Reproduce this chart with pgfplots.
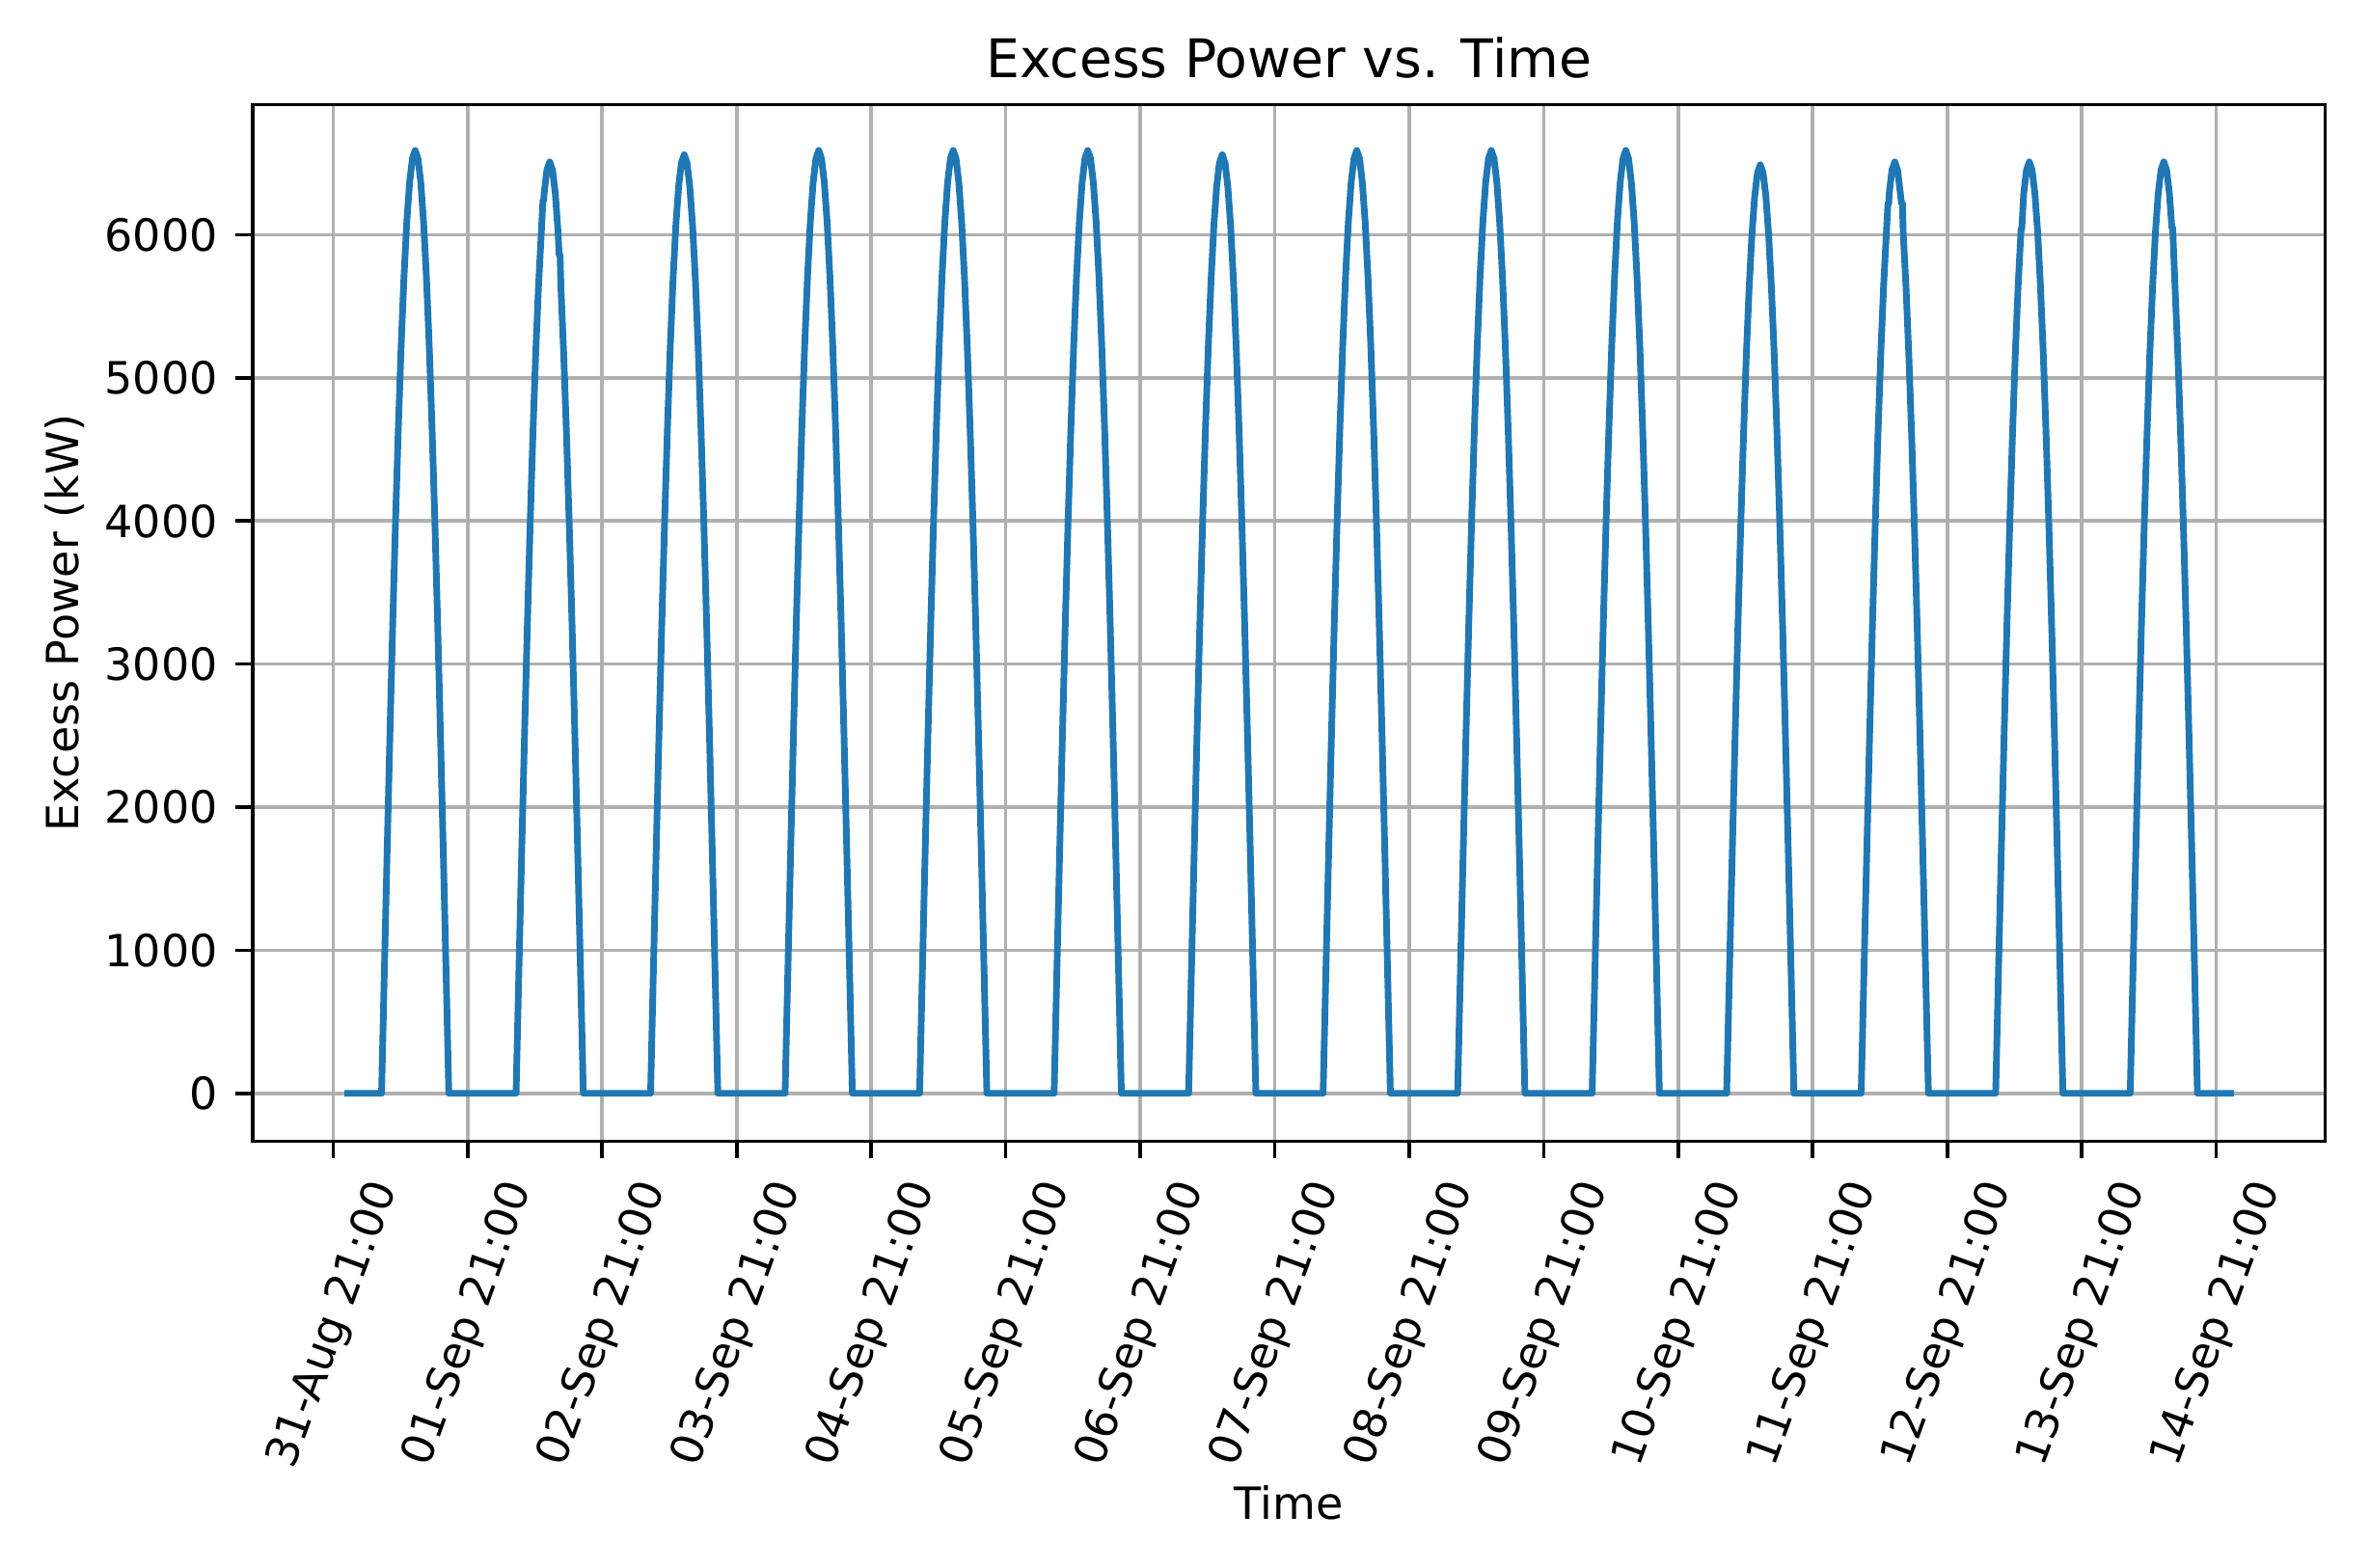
\documentclass[border=0pt]{standalone}
\usepackage{pgfplots}
\pgfplotsset{compat=1.18}
\usepackage{fontspec}
\setmainfont{DejaVu Sans}
\definecolor{mplblue}{RGB}{31,119,180}
\definecolor{gridgray}{RGB}{176,176,176}
\begin{document}
\begin{tikzpicture}
\useasboundingbox (-56.9pt,-96.2pt) rectangle (477.3pt,257.3pt);
\begin{axis}[
  at={(0,0)}, anchor=south west,
  scale only axis, width=467.2pt, height=233.7pt,
  xmin=-0.60, xmax=14.81, ymin=-335, ymax=6910,
  font=\fontsize{10pt}{12pt}\selectfont,
  axis line style={black, line width=0.8pt},
  tick align=outside, major tick length=3.85pt,
  tick style={black, line width=0.8pt},
  xtick={0,1,2,3,4,5,6,7,8,9,10,11,12,13,14},
  xticklabels={31-Aug 21:00,01-Sep 21:00,02-Sep 21:00,03-Sep 21:00,04-Sep 21:00,05-Sep 21:00,06-Sep 21:00,07-Sep 21:00,08-Sep 21:00,09-Sep 21:00,10-Sep 21:00,11-Sep 21:00,12-Sep 21:00,13-Sep 21:00,14-Sep 21:00},
  ytick={0,1000,2000,3000,4000,5000,6000},
  yticklabels={0,1000,2000,3000,4000,5000,6000},
  xtick pos=bottom, ytick pos=left,
  grid=major,
  major grid style={gridgray, line width=0.8pt},
  xticklabel style={inner sep=0pt, xshift=7.2pt, yshift=-4pt, rotate=70, anchor=north east},
  yticklabel style={inner sep=0pt, anchor=east, xshift=-3.8pt},
  title={Excess Power vs. Time},
  title style={at={(axis description cs:0.5,1)}, anchor=base, yshift=0pt, font=\fontsize{12pt}{14pt}\selectfont},
  xlabel={Time},
  every axis x label/.style={at={(axis description cs:0.5,0)}, yshift=-85.2pt, anchor=base},
  ylabel={Excess Power (kW)},
  every axis y label/.style={at={(axis description cs:0,0.5)}, xshift=-39.2pt, rotate=90, anchor=base},
]
\addplot[mplblue, line width=1.5pt, line join=round, mark=none] table {
x y
0.084 0
0.3600 0
0.3808 860
0.4017 1706
0.4225 2522
0.4433 3295
0.4642 4012
0.4850 4660
0.5058 5229
0.5267 5707
0.5475 6089
0.5683 6365
0.5892 6533
0.6100 6590
0.6308 6533
0.6517 6365
0.6725 6089
0.6933 5707
0.7142 5229
0.7350 4660
0.7558 4012
0.7767 3295
0.7975 2522
0.8183 1706
0.8392 860
0.8600 0
1.3600 0
1.3808 850
1.4017 1685
1.4225 2491
1.4433 3255
1.4642 3963
1.4850 4603
1.5058 5165
1.5267 5638
1.5475 6015
1.5600 6240
1.5660 6240
1.5683 6288
1.5892 6454
1.6100 6510
1.6308 6454
1.6517 6288
1.6725 6015
1.6800 5860
1.6870 5860
1.6933 5638
1.7142 5165
1.7350 4603
1.7558 3963
1.7767 3255
1.7975 2491
1.8183 1685
1.8392 850
1.8600 0
2.3600 0
2.3808 856
2.4017 1698
2.4225 2511
2.4433 3280
2.4642 3994
2.4850 4639
2.5058 5205
2.5267 5681
2.5475 6061
2.5683 6336
2.5892 6504
2.6100 6560
2.6308 6504
2.6517 6336
2.6725 6061
2.6933 5681
2.7142 5205
2.7350 4639
2.7558 3994
2.7767 3280
2.7975 2511
2.8183 1698
2.8392 856
2.8600 0
3.3600 0
3.3808 860
3.4017 1706
3.4225 2522
3.4433 3295
3.4642 4012
3.4850 4660
3.5058 5229
3.5267 5707
3.5475 6089
3.5683 6365
3.5892 6533
3.6100 6590
3.6308 6533
3.6517 6365
3.6725 6089
3.6933 5707
3.7142 5229
3.7350 4660
3.7558 4012
3.7767 3295
3.7975 2522
3.8183 1706
3.8392 860
3.8600 0
4.3600 0
4.3808 860
4.4017 1706
4.4225 2522
4.4433 3295
4.4642 4012
4.4850 4660
4.5058 5229
4.5267 5707
4.5475 6089
4.5683 6365
4.5892 6533
4.6100 6590
4.6308 6533
4.6517 6365
4.6725 6089
4.6933 5707
4.7142 5229
4.7350 4660
4.7558 4012
4.7767 3295
4.7975 2522
4.8183 1706
4.8392 860
4.8600 0
5.3600 0
5.3808 860
5.4017 1706
5.4225 2522
5.4433 3295
5.4642 4012
5.4850 4660
5.5058 5229
5.5267 5707
5.5475 6089
5.5683 6365
5.5892 6533
5.6100 6590
5.6308 6533
5.6517 6365
5.6725 6089
5.6933 5707
5.7142 5229
5.7350 4660
5.7558 4012
5.7767 3295
5.7975 2522
5.8183 1706
5.8392 860
5.8600 0
6.3600 0
6.3808 856
6.4017 1698
6.4225 2511
6.4433 3280
6.4642 3994
6.4850 4639
6.5058 5205
6.5267 5681
6.5475 6061
6.5683 6336
6.5892 6504
6.6100 6560
6.6308 6504
6.6517 6336
6.6725 6061
6.6933 5681
6.7142 5205
6.7350 4639
6.7558 3994
6.7767 3280
6.7975 2511
6.8183 1698
6.8392 856
6.8600 0
7.3600 0
7.3808 860
7.4017 1706
7.4225 2522
7.4433 3295
7.4642 4012
7.4850 4660
7.5058 5229
7.5267 5707
7.5475 6089
7.5683 6365
7.5892 6533
7.6100 6590
7.6308 6533
7.6517 6365
7.6725 6089
7.6933 5707
7.7142 5229
7.7350 4660
7.7558 4012
7.7767 3295
7.7975 2522
7.8183 1706
7.8392 860
7.8600 0
8.3600 0
8.3808 860
8.4017 1706
8.4225 2522
8.4433 3295
8.4642 4012
8.4850 4660
8.5058 5229
8.5267 5707
8.5475 6089
8.5683 6365
8.5892 6533
8.6100 6590
8.6308 6533
8.6517 6365
8.6725 6089
8.6933 5707
8.7142 5229
8.7350 4660
8.7558 4012
8.7767 3295
8.7975 2522
8.8183 1706
8.8392 860
8.8600 0
9.3600 0
9.3808 860
9.4017 1706
9.4225 2522
9.4433 3295
9.4642 4012
9.4850 4660
9.5058 5229
9.5267 5707
9.5475 6089
9.5683 6365
9.5892 6533
9.6100 6590
9.6308 6533
9.6517 6365
9.6725 6089
9.6933 5707
9.7142 5229
9.7350 4660
9.7558 4012
9.7767 3295
9.7975 2522
9.8183 1706
9.8392 860
9.8600 0
10.3600 0
10.3808 847
10.4017 1680
10.4225 2484
10.4433 3245
10.4642 3951
10.4850 4589
10.5058 5150
10.5267 5621
10.5475 5996
10.5683 6269
10.5892 6434
10.6100 6490
10.6308 6434
10.6517 6269
10.6725 5996
10.6933 5621
10.7142 5150
10.7350 4589
10.7558 3951
10.7767 3245
10.7975 2484
10.8183 1680
10.8392 847
10.8600 0
11.3600 0
11.3808 850
11.4017 1685
11.4225 2491
11.4433 3255
11.4642 3963
11.4850 4603
11.5058 5165
11.5267 5638
11.5475 6015
11.5590 6220
11.5650 6220
11.5683 6288
11.5892 6454
11.6100 6510
11.6308 6454
11.6517 6288
11.6600 6220
11.6670 6220
11.6725 6015
11.6933 5638
11.7142 5165
11.7350 4603
11.7558 3963
11.7767 3255
11.7975 2491
11.8183 1685
11.8392 850
11.8600 0
12.3600 0
12.3808 850
12.4017 1685
12.4225 2491
12.4433 3255
12.4642 3963
12.4850 4603
12.5058 5165
12.5267 5638
12.5475 6015
12.5480 6040
12.5540 6040
12.5683 6288
12.5892 6454
12.6100 6510
12.6308 6454
12.6517 6288
12.6725 6015
12.6933 5638
12.7142 5165
12.7350 4603
12.7558 3963
12.7767 3255
12.7975 2491
12.8183 1685
12.8392 850
12.8600 0
13.3600 0
13.3808 850
13.4017 1685
13.4225 2491
13.4433 3255
13.4642 3963
13.4850 4603
13.5058 5165
13.5267 5638
13.5475 6015
13.5683 6288
13.5892 6454
13.6100 6510
13.6308 6454
13.6517 6288
13.6700 6050
13.6760 6050
13.6933 5638
13.7142 5165
13.7350 4603
13.7558 3963
13.7767 3255
13.7975 2491
13.8183 1685
13.8392 850
13.8600 0
14.130 0
};
\end{axis}
\end{tikzpicture}
\end{document}
